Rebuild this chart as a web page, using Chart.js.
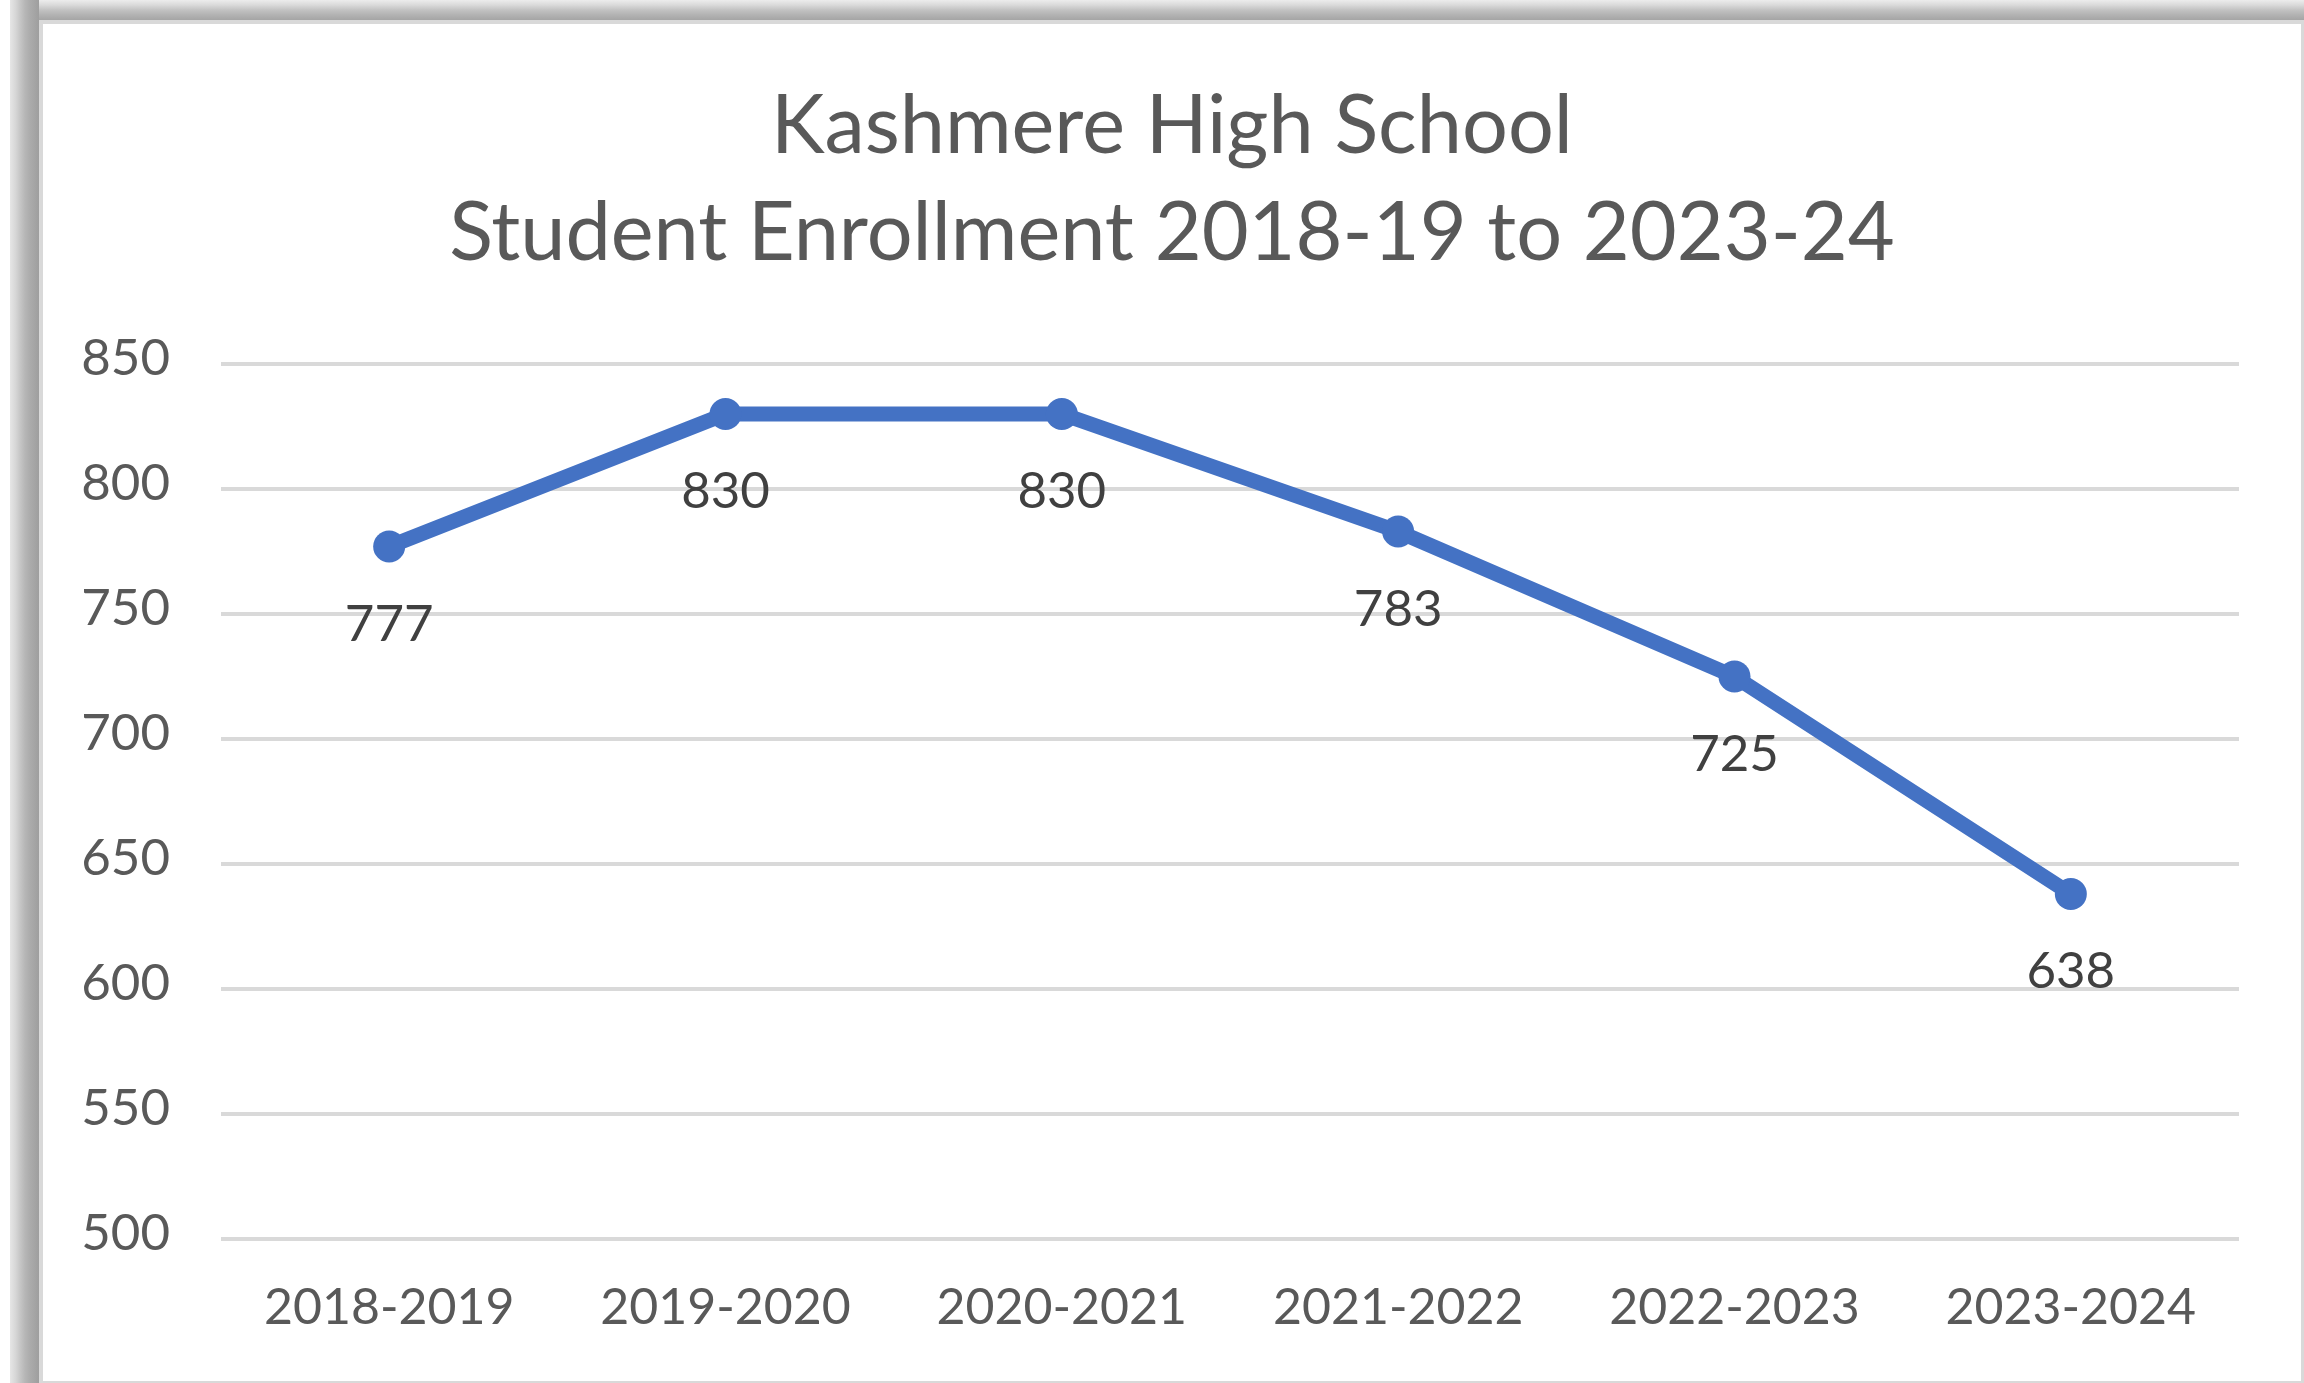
<!DOCTYPE html>
<html>
<head>
<meta charset="utf-8">
<script src="https://cdn.jsdelivr.net/npm/chart.js@4/dist/chart.umd.min.js"></script>
<style>
  html, body { margin: 0; padding: 0; background: #ffffff; width: 2304px; height: 1383px; overflow: hidden; }
  #shTop { position: absolute; left: 10px; top: 0; width: 2294px; height: 20px;
           background: linear-gradient(to bottom, #ececec, #dadada 25%, #c2c2c2 50%, #b2b2b2 75%, #a5a5a5); }
  #shLeft { position: absolute; left: 10px; top: 0; width: 29px; height: 1383px;
           background: linear-gradient(to right, #e6e6e6, #d6d6d6 20%, #c6c6c6 35%, #b6b6b6 52%, #ababab 70%, #a6a6a6 82%, #9e9e9e); }
  #frame { position: absolute; left: 39px; top: 20px; width: 2258px; height: 1357px;
           border-style: solid; border-color: #d9d9d9; border-width: 4px 3px 2px 4px; background: #ffffff; }
  #wrap { position: absolute; left: 0; top: 0; width: 2258px; height: 1357px; }
</style>
</head>
<body>
<div id="shTop"></div>
<div id="shLeft"></div>
<div id="frame"><div id="wrap"><canvas id="c" width="2258" height="1357"></canvas></div></div>
<script>
// ---- data ----
const titleLines = ['Kashmere High School', 'Student Enrollment 2018-19 to 2023-24'];
const categories = ['2018-2019', '2019-2020', '2020-2021', '2021-2022', '2022-2023', '2023-2024'];
const enrollment = [777, 830, 830, 783, 725, 638];
const yMin = 500;
const yMax = 850;
const yStep = 50;

const FONT = 'Lato, "Open Sans", "Liberation Sans", sans-serif';

const dataLabelPlugin = {
  id: 'dataLabelsBelow',
  afterDatasetsDraw(chart) {
    const ctx = chart.ctx;
    chart.data.datasets.forEach((ds, i) => {
      const meta = chart.getDatasetMeta(i);
      ctx.save();
      ctx.font = '51px ' + FONT;
      ctx.fillStyle = '#404040';
      ctx.textAlign = 'center';
      ctx.textBaseline = 'middle';
      meta.data.forEach((pt, j) => {
        ctx.fillText(String(ds.data[j]), pt.x, pt.y + 78);
      });
      ctx.restore();
    });
  }
};

new Chart(document.getElementById('c'), {
  type: 'line',
  data: {
    labels: categories,
    datasets: [{
      label: 'Enrollment',
      data: enrollment,
      yAxisID: 'y',
      borderColor: '#4472C4',
      backgroundColor: '#4472C4',
      borderWidth: 15,
      pointRadius: 16,
      pointBorderWidth: 0,
      pointBackgroundColor: '#4472C4',
      tension: 0,
      fill: false
    }]
  },
  options: {
    responsive: false,
    animation: false,
    devicePixelRatio: 1,
    layout: { padding: { left: 0, right: 0, top: 0, bottom: 0 } },
    plugins: {
      legend: { display: false },
      tooltip: { enabled: false },
      title: {
        display: true,
        text: titleLines,
        color: '#595959',
        font: { family: FONT, size: 81, weight: 'normal', lineHeight: 1.32 },
        padding: { top: 49, bottom: 77.2 }
      }
    },
    scales: {
      x: {
        type: 'category',
        offset: true,
        grid: { display: false, drawTicks: false },
        border: { display: false },
        ticks: {
          color: '#595959',
          font: { family: FONT, size: 50 },
          padding: 39,
          maxRotation: 0,
          autoSkip: false
        },
        afterFit(scale) { scale.height = 142; }
      },
      y: {
        position: 'left',
        min: yMin,
        max: yMax,
        grid: { color: '#d9d9d9', lineWidth: 4, drawTicks: false },
        border: { display: false },
        ticks: {
          stepSize: yStep,
          color: '#595959',
          font: { family: FONT, size: 51 },
          padding: 51,
          labelOffset: -5
        },
        afterFit(scale) { scale.width = 178; }
      },
      yRight: {
        type: 'linear',
        position: 'right',
        min: yMin,
        max: yMax,
        grid: { display: false, drawTicks: false },
        border: { display: false },
        ticks: { display: false },
        afterFit(scale) { scale.width = 62; }
      }
    }
  },
  plugins: [dataLabelPlugin]
});
</script>
</body>
</html>
